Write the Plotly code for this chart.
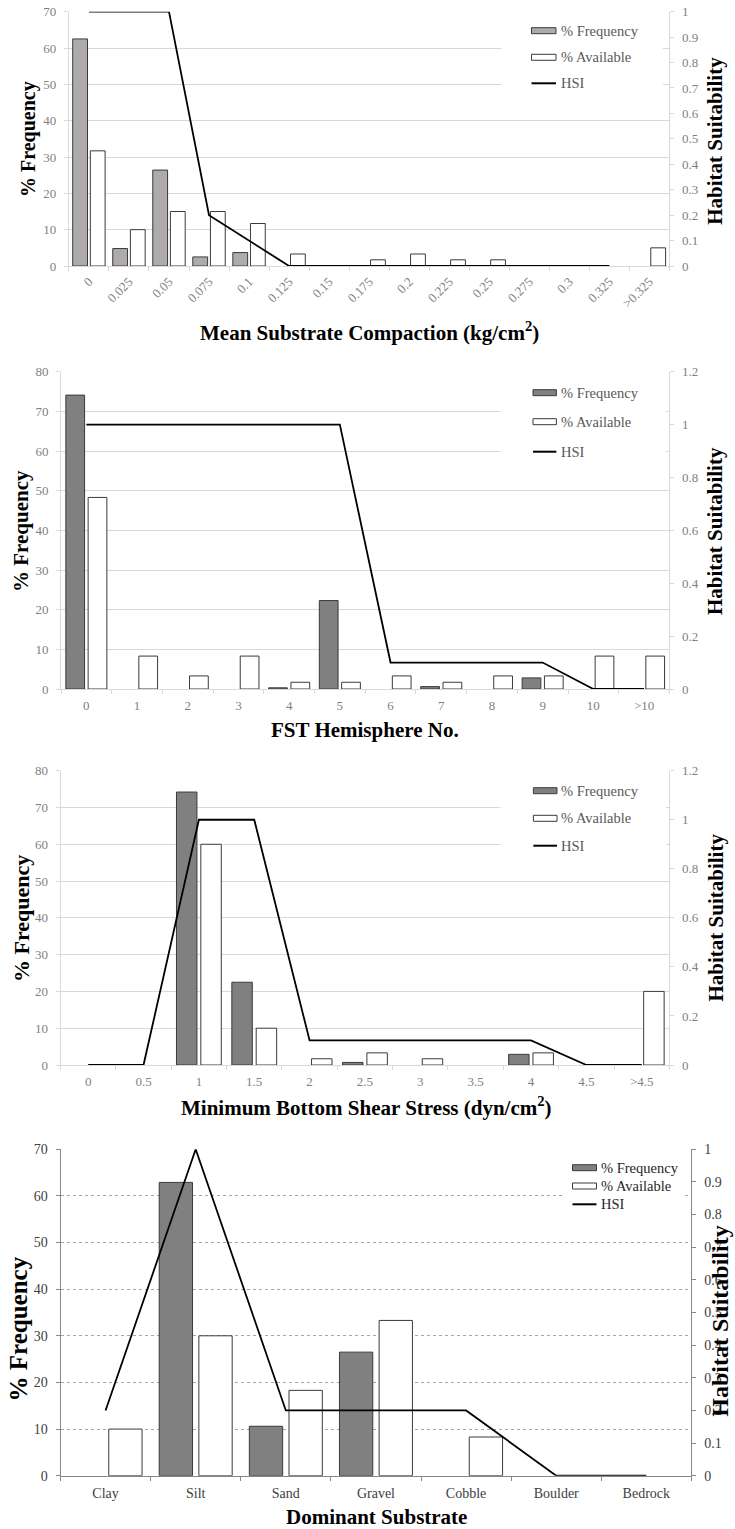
import plotly.graph_objects as go

W, H = 735, 1529

# ---- Mean substrate compaction (kg/cm2) ----
comp_cats = ["0", "0.025", "0.05", "0.075", "0.1", "0.125", "0.15", "0.175",
             "0.2", "0.225", "0.25", "0.275", "0.3", "0.325", ">0.325"]
comp_freq = [62.5, 4.8, 26.4, 2.5, 3.7, 0, 0, 0, 0, 0, 0, 0, 0, 0, 0]
comp_avail = [31.7, 10.0, 15.0, 15.0, 11.7, 3.3, 0, 1.7, 3.3, 1.7, 1.7, 0, 0, 0, 5.0]
comp_hsi_cats = comp_cats[:14]
comp_hsi = [1, 1, 1, 0.2, 0.1, 0, 0, 0, 0, 0, 0, 0, 0, 0]

# ---- FST hemisphere number ----
fst_cats = ["0", "1", "2", "3", "4", "5", "6", "7", "8", "9", "10", ">10"]
fst_freq = [74.1, 0, 0, 0, 0.3, 22.3, 0, 0.6, 0, 2.8, 0, 0]
fst_avail = [48.3, 8.3, 3.3, 8.3, 1.7, 1.7, 3.3, 1.7, 3.3, 3.3, 8.3, 8.3]
fst_hsi = [1, 1, 1, 1, 1, 1, 0.1, 0.1, 0.1, 0.1, 0, 0]

# ---- Minimum bottom shear stress (dyn/cm2) ----
shear_cats = ["0", "0.5", "1", "1.5", "2", "2.5", "3", "3.5", "4", "4.5", ">4.5"]
shear_freq = [0, 0, 74.2, 22.5, 0, 0.7, 0, 0, 2.9, 0, 0]
shear_avail = [0, 0, 60.0, 10.0, 1.7, 3.3, 1.7, 0, 3.3, 0, 20.0]
shear_hsi = [0, 0, 1, 1, 0.1, 0.1, 0.1, 0.1, 0.1, 0, 0]

# ---- Dominant substrate ----
sub_cats = ["Clay", "Silt", "Sand", "Gravel", "Cobble", "Boulder", "Bedrock"]
sub_freq = [0, 62.9, 10.6, 26.5, 0, 0, 0]
sub_avail = [10.0, 30.0, 18.3, 33.3, 8.3, 0, 0]
sub_hsi = [0.2, 1, 0.2, 0.2, 0.2, 0, 0]

FONT = "Liberation Serif, Times New Roman, serif"


def fx(v):
    return v / W


def fy(v):
    return 1 - v / H


def zeros_blank(vals):
    # empty classes carry no bar
    return [v if v else None for v in vals]


panels = [
    dict(cats=comp_cats, freq=comp_freq, avail=comp_avail,
         hsi_cats=comp_hsi_cats, hsi=comp_hsi, freq_color="#AFABAB",
         px=(68.9, 669.4), py=(11.7, 266.0), ymax=70, y2max=1.0, y2dtick=0.1,
         tickangle=-45, grid="solid", gridcolor="#D9D9D9", linecolor="#D9D9D9",
         tickcolor="#7F7F7F", tickfont=13, xtickfont=13,
         legend_sym=(531.5, 556.0), legend_rows=(30.7, 57.3, 83.3), legend_text_x=558.5,
         legend_box=(501.5, 18.0, 663.0, 97.0), legend_font=14.5, legend_color="#595959",
         xtitle="Mean Substrate Compaction (kg/cm<sup>2</sup>)", xtitle_pos=(369, 331.7), xtitle_size=21,
         ytitle_pos=(28, 139), ytitle_size=20, y2title_pos=(715, 140.8), y2title_size=21),
    dict(cats=fst_cats, freq=fst_freq, avail=fst_avail,
         hsi_cats=fst_cats, hsi=fst_hsi, freq_color="#808080",
         px=(61.0, 669.4), py=(371.7, 689.0), ymax=80, y2max=1.2, y2dtick=0.2,
         tickangle=0, grid="solid", gridcolor="#D9D9D9", linecolor="#D9D9D9",
         tickcolor="#7F7F7F", tickfont=13, xtickfont=13,
         legend_sym=(533.0, 556.4), legend_rows=(392.7, 421.7, 451.7), legend_text_x=558.5,
         legend_box=(500.5, 378.0, 665.5, 466.0), legend_font=14.5, legend_color="#595959",
         xtitle="FST Hemisphere No.", xtitle_pos=(365, 730), xtitle_size=21,
         ytitle_pos=(21, 531), ytitle_size=21, y2title_pos=(715, 531), y2title_size=21),
    dict(cats=shear_cats, freq=shear_freq, avail=shear_avail,
         hsi_cats=shear_cats, hsi=shear_hsi, freq_color="#808080",
         px=(60.5, 669.4), py=(770.7, 1065.0), ymax=80, y2max=1.2, y2dtick=0.2,
         tickangle=0, grid="solid", gridcolor="#D9D9D9", linecolor="#D9D9D9",
         tickcolor="#7F7F7F", tickfont=13, xtickfont=13,
         legend_sym=(533.4, 557.0), legend_rows=(790.7, 818.3, 845.7), legend_text_x=559.0,
         legend_box=(500.5, 778.0, 666.0, 858.0), legend_font=14.5, legend_color="#595959",
         xtitle="Minimum Bottom Shear Stress (dyn/cm<sup>2</sup>)", xtitle_pos=(366, 1106.7), xtitle_size=21,
         ytitle_pos=(21, 919), ytitle_size=22, y2title_pos=(715, 917.5), y2title_size=21),
    dict(cats=sub_cats, freq=sub_freq, avail=sub_avail,
         hsi_cats=sub_cats, hsi=sub_hsi, freq_color="#808080",
         px=(60.5, 691.4), py=(1149.3, 1475.7), ymax=70, y2max=1.0, y2dtick=0.1,
         tickangle=0, grid="dot", gridcolor="#A6A6A6", linecolor="#868686",
         tickcolor="#404040", tickfont=14, xtickfont=14,
         legend_sym=(572.5, 596.5), legend_rows=(1167.7, 1186.0, 1204.3), legend_text_x=599.0,
         legend_box=(563.0, 1156.0, 684.0, 1214.0), legend_font=14.5, legend_color="#262626",
         xtitle="Dominant Substrate", xtitle_pos=(376, 1516.7), xtitle_size=21,
         ytitle_pos=(17.5, 1329), ytitle_size=25, y2title_pos=(720, 1321.7), y2title_size=24),
]

fig = go.Figure()
shapes = []
annotations = []
layout = {}

for i, p in enumerate(panels, start=1):
    xname = "x" if i == 1 else f"x{i}"
    yl = 2 * i - 1
    yr = 2 * i
    ylname = "y" if yl == 1 else f"y{yl}"
    yrname = f"y{yr}"
    xkey = "xaxis" if i == 1 else f"xaxis{i}"
    ylkey = "yaxis" if yl == 1 else f"yaxis{yl}"
    yrkey = f"yaxis{yr}"

    fig.add_trace(go.Bar(
        x=p["cats"], y=zeros_blank(p["freq"]), name="% Frequency",
        marker=dict(color=p["freq_color"], line=dict(color="#3A3A3A", width=1)),
        xaxis=xname, yaxis=ylname, showlegend=False, hoverinfo="x+y"))
    fig.add_trace(go.Bar(
        x=p["cats"], y=zeros_blank(p["avail"]), name="% Available",
        marker=dict(color="#FFFFFF", line=dict(color="#3A3A3A", width=1)),
        xaxis=xname, yaxis=ylname, showlegend=False, hoverinfo="x+y"))
    fig.add_trace(go.Scatter(
        x=p["hsi_cats"], y=p["hsi"], name="HSI", mode="lines",
        line=dict(color="#000000", width=1.8),
        xaxis=xname, yaxis=yrname, showlegend=False))

    n = len(p["cats"])
    x0, x1 = p["px"]
    ytop, ybot = p["py"]
    tick_font = dict(family=FONT, size=p["tickfont"], color=p["tickcolor"])

    layout[xkey] = dict(
        domain=[fx(x0), fx(x1)], anchor=ylname, type="category",
        range=[-0.5, n - 0.5], showgrid=False, zeroline=False,
        showline=True, linecolor=p["linecolor"], linewidth=1,
        ticks="outside", tickson="boundaries", ticklen=4, tickcolor=p["linecolor"],
        tickangle=p["tickangle"], ticklabelstandoff=4 if p["tickangle"] == 0 else 2,
        tickfont=dict(family=FONT, size=p["xtickfont"], color=p["tickcolor"]),
        automargin=False, fixedrange=True)
    layout[ylkey] = dict(
        domain=[fy(ybot), fy(ytop)], anchor=xname, range=[0, p["ymax"]], dtick=10,
        showgrid=True, gridcolor=p["gridcolor"], gridwidth=1, griddash=p["grid"],
        zeroline=False, showline=True, linecolor=p["linecolor"], linewidth=1,
        ticks="outside", ticklen=4, tickcolor=p["linecolor"], ticklabelstandoff=5,
        tickfont=tick_font, automargin=False, fixedrange=True)
    layout[yrkey] = dict(
        overlaying=ylname, anchor=xname, side="right", range=[0, p["y2max"]],
        dtick=p["y2dtick"], showgrid=False, zeroline=False,
        showline=True, linecolor=p["linecolor"], linewidth=1,
        ticks="outside", ticklen=4, tickcolor=p["linecolor"], ticklabelstandoff=5,
        tickfont=tick_font, automargin=False, fixedrange=True)

    # legend block
    bx0, by0, bx1, by1 = p["legend_box"]
    shapes.append(dict(type="rect", xref="paper", yref="paper", layer="above",
                       x0=fx(bx0), x1=fx(bx1), y0=fy(by1), y1=fy(by0),
                       fillcolor="#FFFFFF", line=dict(width=0)))
    sx0, sx1 = p["legend_sym"]
    r1, r2, r3 = p["legend_rows"]
    shapes.append(dict(type="rect", xref="paper", yref="paper", layer="above",
                       x0=fx(sx0), x1=fx(sx1), y0=fy(r1 + 3), y1=fy(r1 - 3),
                       fillcolor=p["freq_color"], line=dict(color="#3A3A3A", width=1)))
    shapes.append(dict(type="rect", xref="paper", yref="paper", layer="above",
                       x0=fx(sx0), x1=fx(sx1), y0=fy(r2 + 3), y1=fy(r2 - 3),
                       fillcolor="#FFFFFF", line=dict(color="#3A3A3A", width=1)))
    shapes.append(dict(type="line", xref="paper", yref="paper", layer="above",
                       x0=fx(sx0), x1=fx(sx1), y0=fy(r3), y1=fy(r3),
                       line=dict(color="#000000", width=2)))
    for label, row in zip(["% Frequency", "% Available", "HSI"], p["legend_rows"]):
        annotations.append(dict(
            text=label, xref="paper", yref="paper", x=fx(p["legend_text_x"]), y=fy(row),
            xanchor="left", yanchor="middle", showarrow=False,
            font=dict(family=FONT, size=p["legend_font"], color=p["legend_color"])))

    # axis titles
    tx, ty = p["xtitle_pos"]
    annotations.append(dict(
        text="<b>" + p["xtitle"] + "</b>", xref="paper", yref="paper", x=fx(tx), y=fy(ty),
        xanchor="center", yanchor="middle", showarrow=False,
        font=dict(family=FONT, size=p["xtitle_size"], color="#000000")))
    tx, ty = p["ytitle_pos"]
    annotations.append(dict(
        text="<b>% Frequency</b>", xref="paper", yref="paper", x=fx(tx), y=fy(ty),
        xanchor="center", yanchor="middle", textangle=-90, showarrow=False,
        font=dict(family=FONT, size=p["ytitle_size"], color="#000000")))
    tx, ty = p["y2title_pos"]
    annotations.append(dict(
        text="<b>Habitat Suitability</b>", xref="paper", yref="paper", x=fx(tx), y=fy(ty),
        xanchor="center", yanchor="middle", textangle=-90, showarrow=False,
        font=dict(family=FONT, size=p["y2title_size"], color="#000000")))

fig.update_layout(
    width=W, height=H, margin=dict(l=0, r=0, t=0, b=0, pad=0),
    paper_bgcolor="#FFFFFF", plot_bgcolor="rgba(0,0,0,0)",
    barmode="group", bargap=0.12, bargroupgap=0.16,
    showlegend=False, font=dict(family=FONT),
    shapes=shapes, annotations=annotations, **layout)

fig.write_html("out.html")
